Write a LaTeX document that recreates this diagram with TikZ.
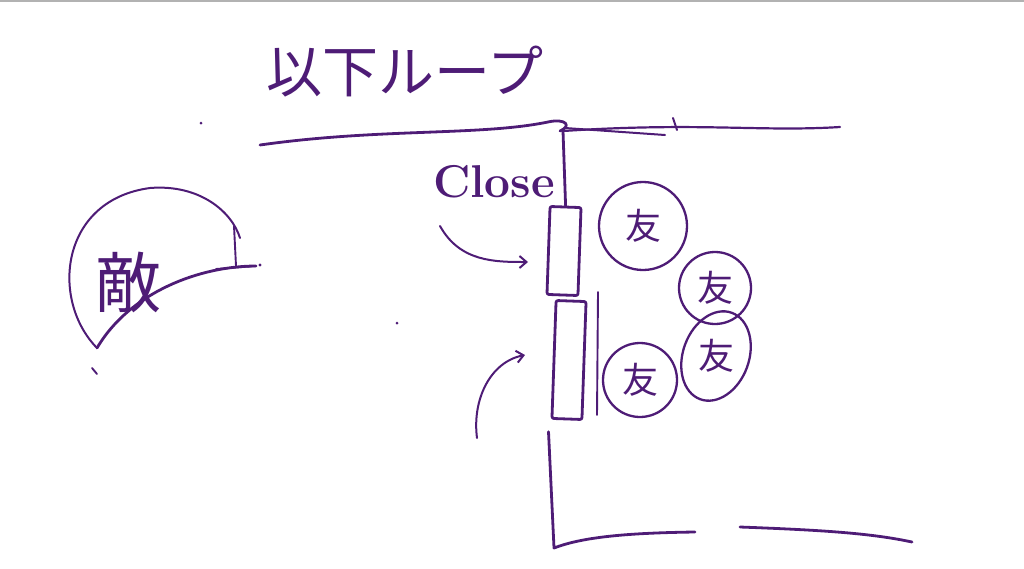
\documentclass[tikz,border=0pt]{standalone}
\usepackage{fontspec}
\newfontfamily\jpfont{Noto Sans CJK JP}
\usetikzlibrary{positioning,shapes.geometric,arrows.meta}
\definecolor{inkpurple}{RGB}{78,28,118}

\begin{document}
\begin{tikzpicture}[x=1pt,y=-1pt,
ink/.style={
	% The pen:
	draw=inkpurple,line width=2.8pt,
	line cap=round,line join=round},
door/.style={
	% The shape:
	rectangle,rounded corners=2pt,
	% The border:
	ink,fill=white,inner sep=0pt},
unit/.style={
	% The shape:
	circle,
	% The border:
	ink,line width=2.3pt,inner sep=2pt,
	% Font
	font=\jpfont\fontsize{36}{36}\selectfont,text=inkpurple},
handtext/.style={
	text=inkpurple,inner sep=0pt},
pointer/.style={
	ink,line width=2pt,-{Straight Barb[length=7pt,width=12pt]}}]

\useasboundingbox (0,0) rectangle (1024,568);
\fill[gray!60] (0,0) rectangle (1024,2);

%Title and loop line
\node (title) [handtext,font=\jpfont\fontsize{56}{56}\selectfont] at (405,72) {以下ループ};
\draw[ink] (260,145) .. controls (380,128) and (480,136) .. (548,122)
	.. controls (566,118) and (572,126) .. (560,131);
\draw[ink,line width=2pt] (565,128) -- (665,135);
\draw[ink,line width=2pt] (673,118) -- (677,130);

%Wall with the door
\coordinate (wallTop) at (563,131);
\coordinate (wallEnd) at (840,127);
\node (upperDoor) [door,minimum width=31pt,minimum height=88pt,rotate=-2] at (564,251) {};
\node (lowerDoor) [door,minimum width=30pt,minimum height=118pt,rotate=-2] at (569,360) {};
\draw[ink,line width=1.9pt] (598,292) -- (597,415);
\draw[ink,line width=2.2pt] (wallTop) .. controls (700,122) and (760,132) .. (wallEnd);
\draw[ink] (wallTop) -- (upperDoor.north);
\coordinate (wallFoot) at (554,548);
\coordinate (floorA) at (695,532);
\draw[ink] (lowerDoor.south west) ++(-2,12) coordinate (wallLow) -- (wallFoot)
	.. controls (580,538) and (620,533) .. (floorA);
\coordinate (floorB) at (740,527);
\coordinate (floorC) at (912,542);
\draw[ink] (floorB) .. controls (820,530) and (870,533) .. (floorC);

\node (close) [handtext,font=\bfseries\fontsize{46}{46}\selectfont] at (494,182) {Close};

% arrows to the door
\coordinate (closeTail) at (440,226);
\coordinate (closeHead) at (528,262);
\draw[pointer] (closeTail) .. controls (460,262) and (495,262) .. (closeHead);
\coordinate (openTail) at (477,438);
\coordinate (openHead) at (525,355);
\draw[pointer] (openTail) .. controls (472,400) and (490,362) .. (openHead);

% units behind the wall
\node (unitA) [unit,minimum size=88pt] at (643,226) {友};
\node (unitB) [unit,minimum size=72pt] at (715,288) {友};
\node (unitC) [unit,draw=none] at (716,356) {友};
\draw[ink,line width=2.3pt,rotate around={-20:(unitC)}] (unitC) ellipse (33 and 46);
\node (unitD) [unit,minimum size=74pt] at (640,380) {友};

%Enemy dome
\coordinate (domeFoot) at (97,348);
\coordinate (domeEdge) at (256,266);
\draw[ink,line width=2pt] (domeFoot) .. controls (50,300) and (60,200) .. (150,188)
	.. controls (200,184) and (232,212) .. (240,238);
\draw[ink] (domeFoot) .. controls (130,292) and (200,266) .. (domeEdge);
\draw[ink,line width=1.9pt] (234,226) -- (236,266) (216,269) -- (domeEdge);
\node (enemy) [handtext,font=\jpfont\fontsize{66}{66}\selectfont] at (128,282) {敵};

% stray marks
\fill[inkpurple] (201,123) circle (1.5pt) (397,323) circle (1.5pt) (260,265) circle (1.7pt);
\draw[ink,line width=1.9pt] (92,368) -- (97,374);
\end{tikzpicture}
\end{document}
